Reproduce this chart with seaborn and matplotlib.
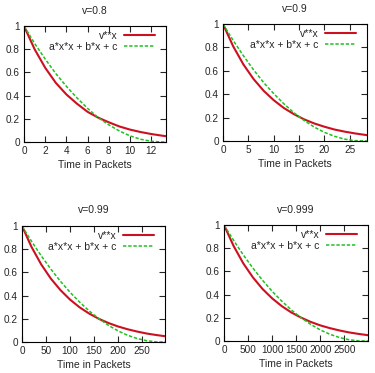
import matplotlib
matplotlib.use("Agg")
import matplotlib.pyplot as plt
import seaborn as sns

# values
titles = ["v=0.8", "v=0.9", "v=0.99", "v=0.999"]

x_08 = [0, 1, 2, 3, 4, 5, 6, 7, 8, 9, 10, 11, 12, 13, 13.4]
red_08 = [1.00, 0.80, 0.64, 0.51, 0.41, 0.33, 0.26, 0.21, 0.17, 0.134, 0.107, 0.086, 0.069, 0.055, 0.05]
green_08 = [1.00, 0.85, 0.715, 0.59, 0.48, 0.38, 0.29, 0.21, 0.148, 0.095, 0.053, 0.024, 0.006, 0.0, 0.0]

x_09 = [0, 2, 4, 6, 8, 10, 12, 14, 16, 18, 20, 22, 24, 26, 28.4]
red_09 = [1.00, 0.81, 0.656, 0.531, 0.43, 0.349, 0.282, 0.229, 0.185, 0.15, 0.122, 0.098, 0.08, 0.065, 0.05]
green_09 = [1.00, 0.86, 0.73, 0.61, 0.50, 0.405, 0.318, 0.241, 0.175, 0.119, 0.074, 0.040, 0.016, 0.003, 0.0]

x_099 = [0, 20, 40, 60, 80, 100, 120, 140, 160, 180, 200, 220, 240, 260, 280, 298]
red_099 = [1.00, 0.818, 0.669, 0.547, 0.448, 0.366, 0.299, 0.245, 0.200, 0.164, 0.134, 0.110, 0.090, 0.073, 0.060, 0.05]
green_099 = [1.00, 0.867, 0.743, 0.629, 0.524, 0.429, 0.344, 0.268, 0.201, 0.144, 0.096, 0.058, 0.030, 0.011, 0.001, 0.0]

x_0999 = [0, 200, 400, 600, 800, 1000, 1200, 1400, 1600, 1800, 2000, 2200, 2400, 2600, 2800, 2994]
red_0999 = [1.00, 0.819, 0.670, 0.549, 0.449, 0.368, 0.301, 0.246, 0.202, 0.165, 0.135, 0.111, 0.091, 0.074, 0.061, 0.05]
green_0999 = [1.00, 0.867, 0.743, 0.629, 0.524, 0.429, 0.344, 0.268, 0.201, 0.144, 0.096, 0.058, 0.030, 0.011, 0.001, 0.0]

xmax = [13.4, 28.4, 298, 2994]
xticks = [
    [0, 2, 4, 6, 8, 10, 12],
    [0, 5, 10, 15, 20, 25],
    [0, 50, 100, 150, 200, 250],
    [0, 500, 1000, 1500, 2000, 2500],
]
yticks = [0, 0.2, 0.4, 0.6, 0.8, 1]
ytick_labels = ["0", "0.2", "0.4", "0.6", "0.8", "1"]

panels = [
    (x_08, red_08, green_08),
    (x_09, red_09, green_09),
    (x_099, red_099, green_099),
    (x_0999, red_0999, green_0999),
]

sns.set_style("ticks")
plt.rcParams["font.family"] = ["Liberation Sans", "DejaVu Sans"]
plt.rcParams["font.size"] = 7

fig = plt.figure(figsize=(3.75, 3.73), dpi=100)
W, H = 375, 373
# axes boxes in pixels: left, top, right, bottom
boxes = [(24, 26, 166, 142), (223, 24, 367, 141), (22, 226, 165, 342), (224, 225, 368, 341)]

for i, (xs, red, green) in enumerate(panels):
    l, t, r, b = boxes[i]
    aw, ah = r - l, b - t
    ax = fig.add_axes([l / W, 1 - b / H, aw / W, ah / H])
    sns.lineplot(x=xs, y=red, ax=ax, color="#cc1020", lw=1.5, label="v**x", sort=False)
    sns.lineplot(x=xs, y=green, ax=ax, color="#20c020", lw=1.1, linestyle=(0, (2.2, 1.2)),
                 label="a*x*x + b*x + c", sort=False)
    ax.set_xlim(0, xmax[i])
    ax.set_ylim(0, 1)
    ax.set_xticks(xticks[i])
    ax.set_yticks(yticks)
    ax.set_yticklabels(ytick_labels)
    ax.tick_params(direction="in", top=True, right=True, length=4, width=0.8, labelsize=7.2, pad=3)
    for s in ax.spines.values():
        s.set_linewidth(0.8)
        s.set_color("black")
    ax.set_title(titles[i], fontsize=7.5, pad=9)
    ax.set_xlabel("Time in Packets", fontsize=7.5, labelpad=3)
    ax.set_ylabel("")
    ax.legend(loc="upper right", bbox_to_anchor=(1 - 11 / aw, 1 - 5 / ah),
              frameon=False, markerfirst=False, fontsize=7.5,
              handlelength=3.0, handletextpad=0.6, labelspacing=0.1,
              borderaxespad=0, borderpad=0)

fig.savefig("out.png", dpi=100)
